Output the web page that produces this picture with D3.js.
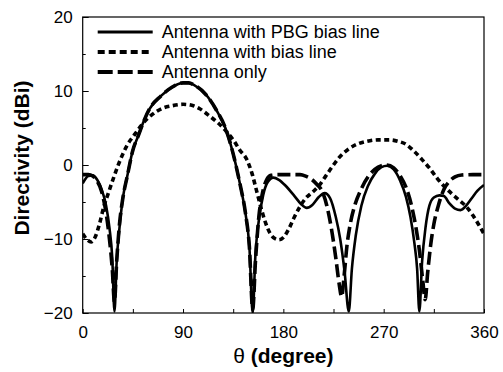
<!DOCTYPE html>
<html>
<head>
<meta charset="utf-8">
<script src="https://cdn.jsdelivr.net/npm/d3@7"></script>
<style>
  html, body { margin: 0; padding: 0; background: #fff; }
  svg text { font-family: "Liberation Sans", Arial, sans-serif; fill: #000; }
</style>
</head>
<body>
<div id="chart"></div>
<script>
// Данные: угол (град) и направленность (дБи) для каждой кривой
const pbgAngles = [0, 5, 9, 13, 17, 21, 24, 26.5, 28.5, 30.5, 33, 36, 40, 45, 50, 55, 60, 70, 80, 90, 95, 100, 110, 120, 128, 135, 141, 146, 149.5, 152.5, 155, 158, 162, 166, 171, 176, 182, 190, 196, 201, 206, 212, 217, 222, 227, 231, 235, 238.7, 241.5, 245, 250, 256, 262, 268, 273, 279, 285, 290, 294, 297.5, 300, 302, 304.5, 307.5, 311, 315, 320, 324, 329, 334, 339, 344, 349, 354, 360];
const pbgValues = [-2.5, -1.5, -1.4, -2, -3.3, -5.5, -8.5, -12.5, -19.8, -13, -8.5, -4.5, -1.5, 2, 4, 6, 7.6, 9.3, 10.5, 11.1, 11.1, 10.8, 9.6, 7.4, 5, 1.5, -2.5, -6.5, -11, -20, -12, -7.5, -4, -2.3, -1.7, -2, -2.8, -4.2, -5.3, -5.8, -5.4, -4.3, -3.8, -4.5, -7, -10, -14.5, -19.8, -14, -9.5, -5.5, -2.8, -1.2, -0.3, -0.1, -0.6, -2.2, -4.3, -7, -10.5, -14, -19.8, -13, -8.5, -5.5, -4.4, -4.1, -4.2, -5.2, -5.9, -6.1, -5.5, -4.5, -3.5, -2.7];

const biasAngles = [0, 4, 7.5, 11, 15, 19, 23, 28, 34, 40, 47, 55, 63, 72, 80, 90, 97, 105, 114, 122, 129, 135, 141, 147, 152, 156, 160, 164, 168, 172, 176, 180, 185, 190, 195, 200, 206, 212, 218, 224, 230, 238, 246, 255, 265, 275, 283, 290, 297, 304, 311, 318, 325, 332, 338, 344, 350, 355, 360];
const biasValues = [-9.3, -10.1, -10.4, -9.8, -8, -5.6, -3.8, -1.6, 0.8, 2.7, 4.2, 5.8, 6.9, 7.7, 8, 8.2, 8.1, 7.6, 6.6, 5.6, 4.5, 3.4, 2, 0.8, -1.2, -3.5, -5.8, -7.8, -9.2, -9.9, -10.1, -9.8, -8.6, -7, -5.6, -4.5, -3.7, -2.8, -1.5, -0.2, 1, 2.1, 2.8, 3.2, 3.4, 3.4, 3.2, 2.8, 1.9, 0.8, -0.4, -1.8, -3, -4, -4.8, -5.6, -6.8, -8, -9.3];

const onlyAngles = [0, 5, 9, 13, 17, 21, 24, 26.5, 28.5, 30.5, 33, 36, 40, 45, 50, 55, 60, 70, 80, 90, 95, 100, 110, 120, 128, 135, 141, 146, 149.5, 152.5, 155, 158, 161, 165, 169, 175, 185, 195, 200, 205, 210, 215, 219, 223, 227, 230, 232.3, 234.5, 237, 240, 244, 250, 256, 262, 268, 273, 279, 285, 290, 295, 299, 302, 305, 307.2, 309.5, 312, 315, 319, 324, 329, 334, 340, 350, 360];
const onlyValues = [-1.3, -1.3, -1.5, -2.2, -3.6, -6.5, -10, -14, -18.5, -13, -8, -4.5, -1.5, 2, 4, 6, 7.6, 9.3, 10.5, 11.1, 11.1, 10.8, 9.6, 7.4, 5, 1.5, -2.5, -6.5, -11, -19.5, -13, -7, -4, -2, -1.4, -1.3, -1.3, -1.3, -1.5, -1.9, -2.6, -3.6, -5.5, -8.5, -12.5, -16, -17.8, -15, -11, -8, -5.5, -3.2, -1.6, -0.6, -0.1, 0, -0.4, -1.5, -3, -5.5, -8.5, -11.5, -15.5, -18.2, -14.5, -11, -8, -5.5, -3.3, -2.2, -1.6, -1.35, -1.3, -1.3];

const seriesNames = ["Antenna with PBG bias line", "Antenna with bias line", "Antenna only"];
const xTicks = [0, 90, 180, 270, 360];
const xMinorTicks = [45, 135, 225, 315];
const yTicks = [-20, -10, 0, 10, 20];
const yMinorTicks = [-15, -5, 5, 15];

// Размеры
const width = 503;
const height = 372;
const margin = { left: 82.7, right: 19, top: 17, bottom: 59 };
const plotW = width - margin.left - margin.right;
const plotH = height - margin.top - margin.bottom;

const svg = d3.select("#chart").append("svg")
    .attr("width", width)
    .attr("height", height);

const xScale = d3.scaleLinear().domain([0, 360]).range([0, plotW]);
const yScale = d3.scaleLinear().domain([-20, 20]).range([plotH, 0]);

const g = svg.append("g")
    .attr("transform", `translate(${margin.left}, ${margin.top})`);

svg.append("defs").append("clipPath")
    .attr("id", "clip")
    .append("rect")
    .attr("x", 0).attr("y", 0)
    .attr("width", plotW).attr("height", plotH);

// Ось X (засечки внутрь)
const xAxis = g.append("g")
    .attr("transform", `translate(0, ${plotH})`)
    .call(d3.axisBottom(xScale).tickValues(xTicks).tickSize(-4).tickSizeOuter(0).tickPadding(13));
g.append("g")
    .attr("transform", `translate(0, ${plotH})`)
    .call(d3.axisBottom(xScale).tickValues(xMinorTicks).tickSize(-4).tickSizeOuter(0).tickFormat(""));

// Ось Y
const yAxis = g.append("g")
    .call(d3.axisLeft(yScale).tickValues(yTicks).tickSize(-6).tickSizeOuter(0).tickPadding(10));
g.append("g")
    .call(d3.axisLeft(yScale).tickValues(yMinorTicks).tickSize(-3).tickSizeOuter(0).tickFormat(""));

g.selectAll(".domain").remove();
g.selectAll(".tick line").attr("stroke", "#000").attr("stroke-width", 1);
g.selectAll(".tick text")
    .style("font-family", "'Liberation Sans', Arial, sans-serif")
    .style("font-size", "17px")
    .attr("fill", "#000");

// Рамка
g.append("rect")
    .attr("width", plotW)
    .attr("height", plotH)
    .attr("fill", "none")
    .attr("stroke", "#000")
    .attr("stroke-width", 1.2);

// Линии
const line = d3.line()
    .x(d => xScale(d[0]))
    .y(d => yScale(d[1]))
    .curve(d3.curveMonotoneX);

const series = [
    { angles: pbgAngles, values: pbgValues, width: 2.6, dash: "none" },
    { angles: biasAngles, values: biasValues, width: 3.6, dash: "5,3.5" },
    { angles: onlyAngles, values: onlyValues, width: 3.6, dash: "13,5" }
];

const plot = g.append("g").attr("clip-path", "url(#clip)");
series.forEach(s => {
    plot.append("path")
        .datum(s.angles.map((a, i) => [a, s.values[i]]))
        .attr("d", line)
        .attr("fill", "none")
        .attr("stroke", "#000")
        .attr("stroke-width", s.width)
        .attr("stroke-dasharray", s.dash);
});

// Легенда
seriesNames.forEach((name, i) => {
    const y = 15 + i * 20;
    g.append("line")
        .attr("x1", 15).attr("x2", 70)
        .attr("y1", y).attr("y2", y)
        .attr("stroke", "#000")
        .attr("stroke-width", series[i].width + 0.6)
        .attr("stroke-dasharray", i === 1 ? "7,4" : series[i].dash === "none" ? "none" : "15,5");
    g.append("text")
        .attr("x", 79)
        .attr("y", y + 6)
        .style("font-size", "18px")
        .text(name);
});

// Подписи осей
svg.append("text")
    .attr("x", margin.left + plotW / 2)
    .attr("y", 363)
    .attr("text-anchor", "middle")
    .style("font-size", "21px")
    .style("font-weight", "bold")
    .html('<tspan style="font-weight:normal">θ</tspan> (degree)');

svg.append("text")
    .attr("transform", "translate(28.5, 158) rotate(-90)")
    .attr("text-anchor", "middle")
    .style("font-size", "21px")
    .style("font-weight", "bold")
    .text("Directivity (dBi)");
</script>
</body>
</html>
